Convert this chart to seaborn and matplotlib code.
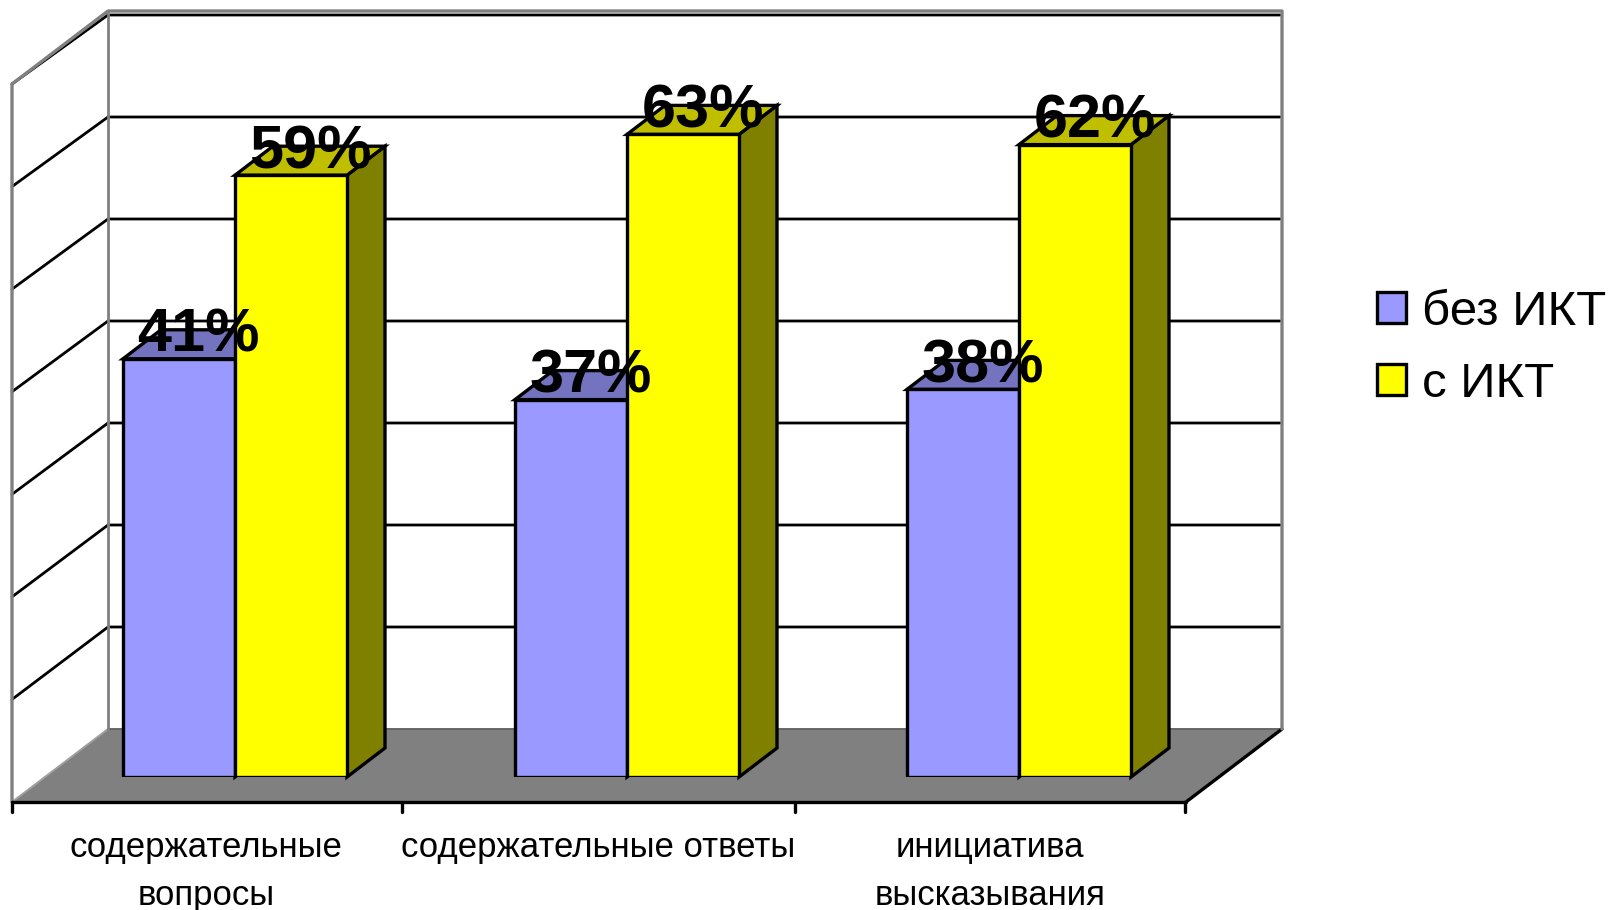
import pandas as pd
import matplotlib.pyplot as plt
import seaborn as sns
from matplotlib.patches import Polygon

categories = ['содержательные\nвопросы', 'содержательные ответы', 'инициатива\nвысказывания']
series_names = ['без ИКТ', 'с ИКТ']
without_ict = [41, 37, 38]
with_ict = [59, 63, 62]
n_grid = 7

front_colors = {'без ИКТ': '#9999FF', 'с ИКТ': '#FFFF00'}
top_colors = {'без ИКТ': '#7373BF', 'с ИКТ': '#BFBF00'}
side_colors = {'без ИКТ': '#4D4D80', 'с ИКТ': '#808000'}

sns.set_theme(style="white")
plt.rcParams['font.family'] = ['Liberation Sans', 'DejaVu Sans']

W, H = 1612, 910
EDGE = 2.4
fig = plt.figure(figsize=(W / 100, H / 100), dpi=100)
# the axes is the front plane of the bars: baseline at y=777, 10.2 px per percent
ax = fig.add_axes([39 / W, 1 - 777 / H, 1176 / W, 714 / H])


def px(x, y):
    return -0.5 + (x - 39) / 392, (777 - y) / 10.2


data = pd.DataFrame({
    'category': categories * 2,
    'series': [series_names[0]] * 3 + [series_names[1]] * 3,
    'value': without_ict + with_ict,
})

sns.barplot(data=data, x='category', y='value', hue='series', palette=front_colors,
            width=0.5714, gap=0, saturation=1, edgecolor='black', linewidth=EDGE, ax=ax)

ax.set_xlim(-0.5, 2.5)
ax.set_ylim(0, 70)
ax.patch.set_visible(False)
sns.despine(ax=ax, left=True, bottom=True)
ax.set_xlabel('')
ax.set_ylabel('')
ax.set_yticks([])

# walls and floor
GRAY = '#808080'
floor = [px(12, 802), px(108, 729), px(1282, 729), px(1186, 802)]
ax.add_patch(Polygon(floor, closed=True, facecolor=GRAY, edgecolor='none', zorder=0.5, clip_on=False))
ax.plot(*zip(px(108, 729), px(1282, 729)), color='#666666', lw=1.4, zorder=0.6, clip_on=False)
ax.plot(*zip(px(1186, 802), px(1282, 729)), color='black', lw=EDGE, zorder=0.6, clip_on=False)
ax.plot(*zip(px(12, 802), px(108, 729)), color='#A0A0A0', lw=1.4, zorder=0.6, clip_on=False)

for k in range(1, n_grid + 1):
    back_y = 729 - 102 * k
    front_y = 802 - 102.57 * k
    ax.plot(*zip(px(12, front_y), px(108, back_y), px(1280, back_y)), color='black', lw=2.0, zorder=0.6,
            clip_on=False, solid_joinstyle='miter')

ax.plot(*zip(px(12, 802), px(12, 84), px(108, 11), px(1282, 11), px(1282, 729)), color=GRAY, lw=2.4,
        zorder=0.7, clip_on=False)
ax.plot(*zip(px(108, 11), px(108, 729)), color=GRAY, lw=2.0, zorder=0.7, clip_on=False)

# front axis line with ticks between the categories
ax.plot(*zip(px(12, 802), px(1186, 802)), color='black', lw=EDGE, zorder=0.8, clip_on=False)
for tick_x in [12, 402, 795, 1185]:
    ax.plot(*zip(px(tick_x, 802), px(tick_x, 812)), color='black', lw=EDGE, zorder=0.8, clip_on=False)

# extruded side and top of every bar
dx, dy = 38 / 392, 29 / 10.2
for name, container, values in zip(series_names, ax.containers, [without_ict, with_ict]):
    for bar, value in zip(container, values):
        bar.set_zorder(3)
        left, right, top = bar.get_x(), bar.get_x() + bar.get_width(), bar.get_height()
        side = [(right, 0), (right + dx, dy), (right + dx, top + dy), (right, top)]
        roof = [(left, top), (left + dx, top + dy), (right + dx, top + dy), (right, top)]
        ax.add_patch(Polygon(side, closed=True, facecolor=side_colors[name], edgecolor='black',
                             lw=EDGE, zorder=2, clip_on=False, joinstyle='miter'))
        ax.add_patch(Polygon(roof, closed=True, facecolor=top_colors[name], edgecolor='black',
                             lw=EDGE, zorder=2, clip_on=False, joinstyle='miter'))
        ax.text((left + right) / 2 + 0.05, top + 0.7, f'{value}%', ha='center', va='baseline',
                fontsize=44, fontweight='bold', color='black', zorder=6, clip_on=False)

# category labels sit under the front edge of the floor
ax.set_xticks([i - 29 / 392 for i in range(3)], categories)
ax.tick_params(axis='x', length=0, pad=39, labelsize=25, labelcolor='black')
for label in ax.get_xticklabels():
    label.set_linespacing(1.57)

legend = ax.legend(title=None, frameon=False, loc='upper left', bbox_to_anchor=(1377 / W, 1 - 290 / H),
                   bbox_transform=fig.transFigure, fontsize=35.5, handlelength=0.58, handleheight=0.58,
                   handletextpad=0.34, labelspacing=0.55, borderpad=0, borderaxespad=0)
for text in legend.get_texts():
    text.set_color('black')

fig.savefig('out.png', dpi=100)
